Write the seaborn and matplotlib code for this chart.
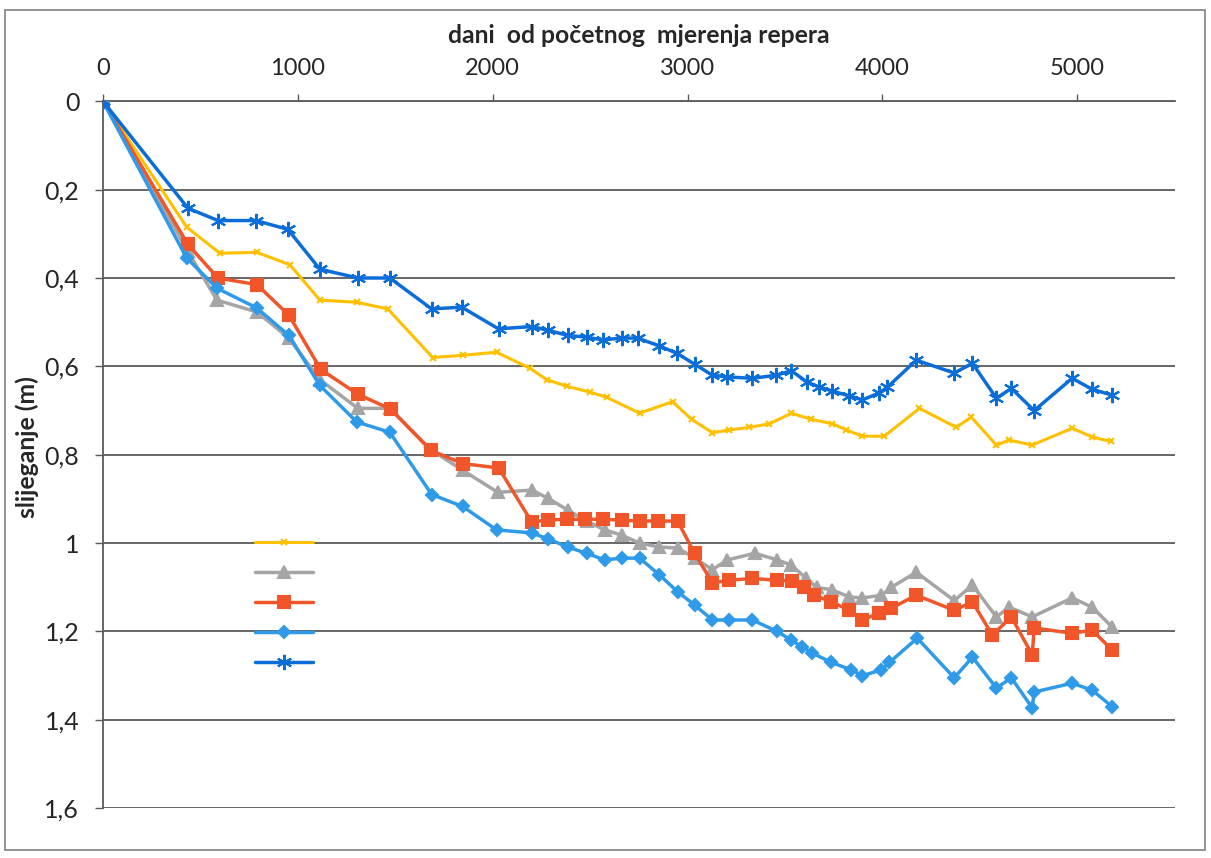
import numpy as np
import seaborn as sns
import matplotlib.pyplot as plt
from matplotlib.lines import Line2D
from matplotlib.patches import Rectangle
from matplotlib.ticker import FuncFormatter

days_yellow = [0, 430, 600, 790, 959, 1113, 1303, 1462, 1692, 1846, 2020, 2190, 2277, 2380,
               2497, 2585, 2754, 2923, 3021, 3128, 3215, 3318, 3420, 3533, 3636, 3744, 3815,
               3897, 4010, 4190, 4379, 4456, 4585, 4651, 4769, 4974, 5077, 5174]
sett_yellow = [0, 0.285, 0.344, 0.342, 0.37, 0.45, 0.455, 0.47, 0.58, 0.575, 0.568, 0.604,
               0.63, 0.645, 0.658, 0.67, 0.706, 0.68, 0.72, 0.75, 0.744, 0.738, 0.73, 0.706,
               0.72, 0.73, 0.744, 0.758, 0.758, 0.695, 0.738, 0.715, 0.778, 0.767, 0.778,
               0.74, 0.76, 0.77]

days_gray = [0, 436, 585, 790, 954, 1113, 1308, 1472, 1687, 1846, 2026, 2200, 2282, 2385,
             2482, 2574, 2662, 2754, 2856, 2949, 3036, 3128, 3205, 3344, 3461, 3533, 3610,
             3662, 3744, 3831, 3897, 3995, 4046, 4174, 4369, 4462, 4585, 4651, 4769, 4974,
             5077, 5179]
sett_gray = [0, 0.34, 0.45, 0.477, 0.536, 0.63, 0.695, 0.695, 0.79, 0.835, 0.885, 0.88,
             0.898, 0.925, 0.95, 0.97, 0.982, 1.0, 1.009, 1.011, 1.034, 1.06, 1.038, 1.023,
             1.038, 1.05, 1.08, 1.10, 1.106, 1.122, 1.124, 1.118, 1.10, 1.066, 1.13, 1.095,
             1.167, 1.145, 1.167, 1.124, 1.145, 1.19]

days_orange = [0, 436, 590, 790, 954, 1118, 1308, 1477, 1682, 1846, 2031, 2200, 2282, 2379,
               2472, 2564, 2662, 2754, 2846, 2949, 3036, 3128, 3215, 3333, 3461, 3538, 3600,
               3651, 3738, 3831, 3897, 3985, 4046, 4174, 4369, 4462, 4564, 4662, 4769, 4779,
               4974, 5077, 5179]
sett_orange = [0, 0.324, 0.40, 0.415, 0.484, 0.607, 0.663, 0.697, 0.79, 0.82, 0.83, 0.952,
               0.948, 0.946, 0.946, 0.946, 0.948, 0.95, 0.95, 0.95, 1.023, 1.09, 1.084, 1.08,
               1.084, 1.086, 1.10, 1.118, 1.133, 1.152, 1.174, 1.158, 1.147, 1.118, 1.152,
               1.133, 1.208, 1.167, 1.253, 1.192, 1.204, 1.197, 1.242]

days_lblue = [0, 430, 585, 790, 954, 1113, 1303, 1472, 1687, 1846, 2020, 2200, 2282, 2385,
              2482, 2574, 2662, 2754, 2856, 2949, 3036, 3128, 3215, 3333, 3461, 3533, 3590,
              3641, 3738, 3841, 3897, 3995, 4036, 4179, 4369, 4462, 4585, 4662, 4769, 4779,
              4974, 5077, 5179]
sett_lblue = [0, 0.355, 0.423, 0.468, 0.53, 0.643, 0.726, 0.749, 0.89, 0.917, 0.97, 0.977,
              0.99, 1.009, 1.023, 1.038, 1.034, 1.034, 1.072, 1.11, 1.14, 1.174, 1.174, 1.174,
              1.2, 1.22, 1.235, 1.249, 1.27, 1.287, 1.30, 1.287, 1.27, 1.215, 1.305, 1.258,
              1.328, 1.305, 1.373, 1.337, 1.317, 1.333, 1.37]

days_dblue = [0, 436, 590, 785, 949, 1113, 1308, 1472, 1687, 1841, 2030, 2200, 2282, 2385,
              2482, 2564, 2662, 2744, 2856, 2944, 3036, 3128, 3205, 3333, 3456, 3533, 3615,
              3677, 3744, 3831, 3897, 3985, 4026, 4174, 4369, 4462, 4585, 4662, 4779, 4974,
              5077, 5179]
sett_dblue = [0, 0.242, 0.27, 0.27, 0.29, 0.38, 0.40, 0.40, 0.47, 0.466, 0.515, 0.51, 0.518,
              0.53, 0.534, 0.54, 0.536, 0.536, 0.554, 0.57, 0.595, 0.62, 0.624, 0.627, 0.62,
              0.61, 0.636, 0.647, 0.656, 0.667, 0.676, 0.66, 0.647, 0.586, 0.615, 0.593, 0.672,
              0.65, 0.70, 0.627, 0.652, 0.665]

y_ticks = [0, 0.2, 0.4, 0.6, 0.8, 1.0, 1.2, 1.4, 1.6]
x_ticks = [0, 1000, 2000, 3000, 4000, 5000]

series = [
    (days_yellow, sett_yellow, '#FFC000', 'x', 5, 2.2),
    (days_gray, sett_gray, '#A5A5A5', '^', 9, 2.5),
    (days_orange, sett_orange, '#F0562A', 's', 9, 2.5),
    (days_lblue, sett_lblue, '#2F9BE8', 'D', 6, 2.5),
    (days_dblue, sett_dblue, '#0B6ED8', (6, 2, 0), 11, 2.5),
]

sns.set_theme(style="white")
plt.rcParams['font.family'] = ['Lato', 'DejaVu Sans']

fig = plt.figure(figsize=(12.11, 8.58), dpi=100)
ax = fig.add_axes([0.085, 0.058, 0.885, 0.824])

handles = []
for x, y, c, m, ms, lw in series:
    sns.lineplot(x=x, y=y, ax=ax, color=c, marker=m, markersize=ms, lw=lw,
                 markeredgecolor=c, markeredgewidth=1.5, sort=False, zorder=3)
    handles.append(Line2D([], [], color=c, marker=m, markersize=ms, lw=lw,
                          markeredgecolor=c, markeredgewidth=1.5))

ax.set_xlim(0, 5500)
ax.set_ylim(1.6, 0)
ax.set_yticks(y_ticks)
ax.set_xticks(x_ticks)
ax.yaxis.set_major_formatter(FuncFormatter(lambda v, p: f"{v:g}".replace('.', ',')))
ax.grid(axis='y', color='#5a5a5a', lw=1.3)
ax.set_axisbelow(True)

ax.xaxis.tick_top()
ax.xaxis.set_label_position('top')
ax.tick_params(axis='x', which='major', direction='out', length=5, width=1,
               color='#5a5a5a', labelsize=17, pad=11, top=True, bottom=False)
ax.tick_params(axis='y', which='major', direction='out', length=6, width=1,
               color='#5a5a5a', labelsize=18, pad=11, left=True)
for side in ['right', 'bottom']:
    ax.spines[side].set_visible(False)
for side in ['top', 'left']:
    ax.spines[side].set_color('#5a5a5a')
    ax.spines[side].set_linewidth(1.3)

ax.set_xlabel('dani  od početnog  mjerenja repera', fontsize=17.8, fontweight='bold')
ax.xaxis.set_label_coords(0.5, 1.082)
ax.set_ylabel('slijeganje (m)', fontsize=17.8, fontweight='bold')
ax.yaxis.set_label_coords(-0.060, 0.511)

if ax.get_legend():
    ax.get_legend().remove()
ax.legend(handles, [''] * 5, loc='upper left', bbox_to_anchor=(0.142, 0.385),
          frameon=False, fontsize=10, handlelength=4.2, handleheight=1.2,
          labelspacing=1.14, borderpad=0, borderaxespad=0, handletextpad=0)

fig.add_artist(Rectangle((0.004, 0.009), 0.991, 0.979, transform=fig.transFigure,
                         fill=False, ec='#808080', lw=1.2))

fig.savefig('out.png', dpi=100)
